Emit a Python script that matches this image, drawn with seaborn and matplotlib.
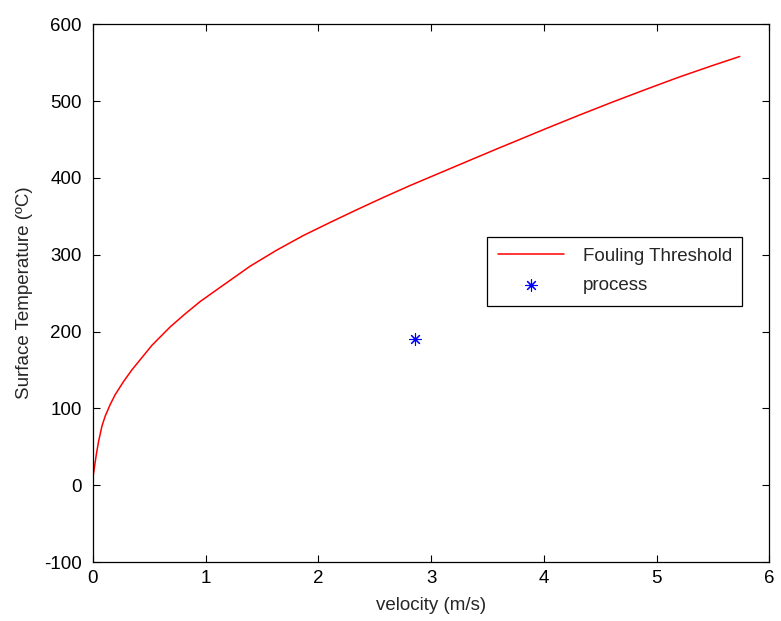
import numpy as np
import pandas as pd
import matplotlib
matplotlib.use("Agg")
import matplotlib.pyplot as plt
import seaborn as sns

sns.set_style("ticks")
plt.rcParams['font.family'] = ['Liberation Sans', 'DejaVu Sans']
plt.rcParams['axes.unicode_minus'] = False

# fouling threshold curve
velocity = [0.0, 0.002, 0.012, 0.03, 0.05, 0.08, 0.109, 0.153, 0.198, 0.272,
            0.345, 0.434, 0.523, 0.685, 0.818, 0.951, 1.114, 1.394,
            1.631, 1.867, 2.104, 2.34, 2.576, 2.813, 3.079, 3.345, 3.596,
            3.729, 4.025, 4.32, 4.615, 4.911, 5.206, 5.502, 5.738]
threshold = [0, 12, 22, 40, 57, 77, 90, 105, 118, 135,
             150, 166, 182, 206, 223, 239, 256, 285,
             306, 325, 342, 358.5, 374.5, 390, 406.5, 423, 438.5,
             446.5, 464.5, 482, 499, 515.5, 531.5, 546.5, 558]

# operating point
process_v = [2.857]
process_t = [190]

x_ticks = [0, 1, 2, 3, 4, 5, 6]
y_ticks = [-100, 0, 100, 200, 300, 400, 500, 600]

curve = pd.DataFrame({"v": velocity, "T": threshold})
FS = 13.5

fig = plt.figure(figsize=(7.81, 6.21), dpi=100)
ax = fig.add_axes([0.119, 0.095, 0.866, 0.866])

sns.lineplot(data=curve, x="v", y="T", color="red", linewidth=1.1,
             label="Fouling Threshold", ax=ax, sort=False)
sns.scatterplot(x=process_v, y=process_t, marker=(8, 2, 0), color="blue",
                edgecolor="blue", s=70, linewidth=0.8, label="process", ax=ax)

ax.set_xlim(0, 6)
ax.set_ylim(-100, 600)
ax.set_xticks(x_ticks)
ax.set_yticks(y_ticks)
ax.tick_params(direction="in", length=5, width=0.8, top=True, right=True,
               labelsize=FS, colors="black")
ax.tick_params(axis="y", pad=8)
ax.tick_params(axis="x", pad=6)
for s in ax.spines.values():
    s.set_visible(True)
    s.set_color("black")
    s.set_linewidth(0.9)

ax.set_xlabel("velocity (m/s)", fontsize=FS, labelpad=7)
ax.set_ylabel("Surface Temperature (\u00baC)", fontsize=FS, labelpad=8)

leg = ax.legend(loc="center", bbox_to_anchor=(0.583, 0.476, 0.376, 0.13),
                mode="expand", fancybox=False, framealpha=1, edgecolor="black",
                fontsize=FS, handlelength=3.5, handletextpad=1.0,
                borderaxespad=0, borderpad=0.6, labelspacing=0.65)
leg.get_frame().set_linewidth(0.9)

fig.savefig("out.png", dpi=100)
